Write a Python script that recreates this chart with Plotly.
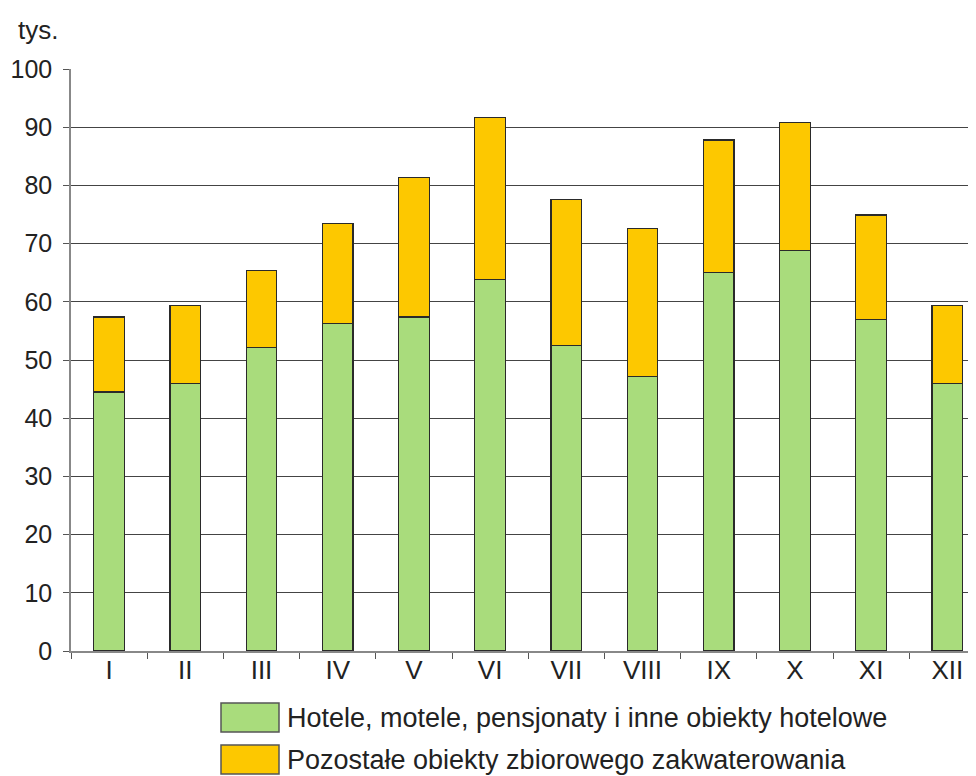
import plotly.graph_objects as go

months = ["I", "II", "III", "IV", "V", "VI", "VII", "VIII", "IX", "X", "XI", "XII"]
hotele = [44.5, 46.0, 52.1, 56.3, 57.4, 63.9, 52.5, 47.2, 65.1, 68.8, 57.0, 46.0]
razem = [57.4, 59.4, 65.4, 73.4, 81.3, 91.6, 77.6, 72.6, 87.8, 90.8, 74.9, 59.3]
pozostale = [round(t - h, 1) for t, h in zip(razem, hotele)]

series_names = ["Hotele, motele, pensjonaty i inne obiekty hotelowe",
                "Pozostałe obiekty zbiorowego zakwaterowania"]
colors = ["#A9DC7C", "#FDC800"]

OFF = 8  # page body margin
W, H = 976 - OFF, 776 - OFF
L, R, T, B = 71 - OFF, 0, 69 - OFF, 776 - 651
pw, ph = W - L - R, H - T - B

fig = go.Figure()
for name, vals, col in zip(series_names, [hotele, pozostale], colors):
    fig.add_trace(go.Bar(x=months, y=vals, name=name, marker_color=col,
                         marker_line_color="#2a2a2a", marker_line_width=1.2,
                         width=0.4, showlegend=False))

font = "Liberation Sans, Arial, sans-serif"

def px2x(px):
    return (px - OFF - L) / pw

def py2y(py):
    return (H - B - (py - OFF)) / ph

shapes = []
annotations = []
for i, (name, col) in enumerate(zip(series_names, colors)):
    top = 703 + i * 42
    shapes.append(dict(type="rect", xref="paper", yref="paper",
                       x0=px2x(221), x1=px2x(279), y0=py2y(top + 29), y1=py2y(top),
                       fillcolor=col, line=dict(color="#555555", width=1.5)))
    annotations.append(dict(text=name, xref="paper", yref="paper",
                            x=px2x(285), y=py2y(top + 15), xanchor="left", yanchor="middle",
                            showarrow=False, font=dict(size=27, color="#222222", family=font)))

annotations.append(dict(text="tys.", xref="paper", yref="paper",
                        x=px2x(16), y=py2y(30), xanchor="left", yanchor="middle",
                        showarrow=False, font=dict(size=26, color="#222222", family=font)))

fig.update_layout(
    barmode="stack",
    width=W, height=H,
    margin=dict(l=L, r=R, t=T, b=B),
    plot_bgcolor="white", paper_bgcolor="white",
    font=dict(family=font, size=25, color="#222222"),
    shapes=shapes, annotations=annotations,
    xaxis=dict(range=[-0.5, -0.5 + pw / 76.2], tickson="boundaries", ticks="outside",
               ticklen=6, tickcolor="#555555", showline=True, linecolor="#888888",
               linewidth=1.5, showgrid=False, tickfont=dict(size=26),
               ticklabelstandoff=-5),
    yaxis=dict(range=[0, 100], dtick=10, ticks="outside", ticklen=6, tickcolor="#555555",
               showline=True, linecolor="#888888", linewidth=1.5, showgrid=True,
               gridcolor="#444444", gridwidth=1.2, zeroline=False,
               tickfont=dict(size=25), ticklabelstandoff=6),
    bargap=0.6,
)

fig.write_html("out.html")
